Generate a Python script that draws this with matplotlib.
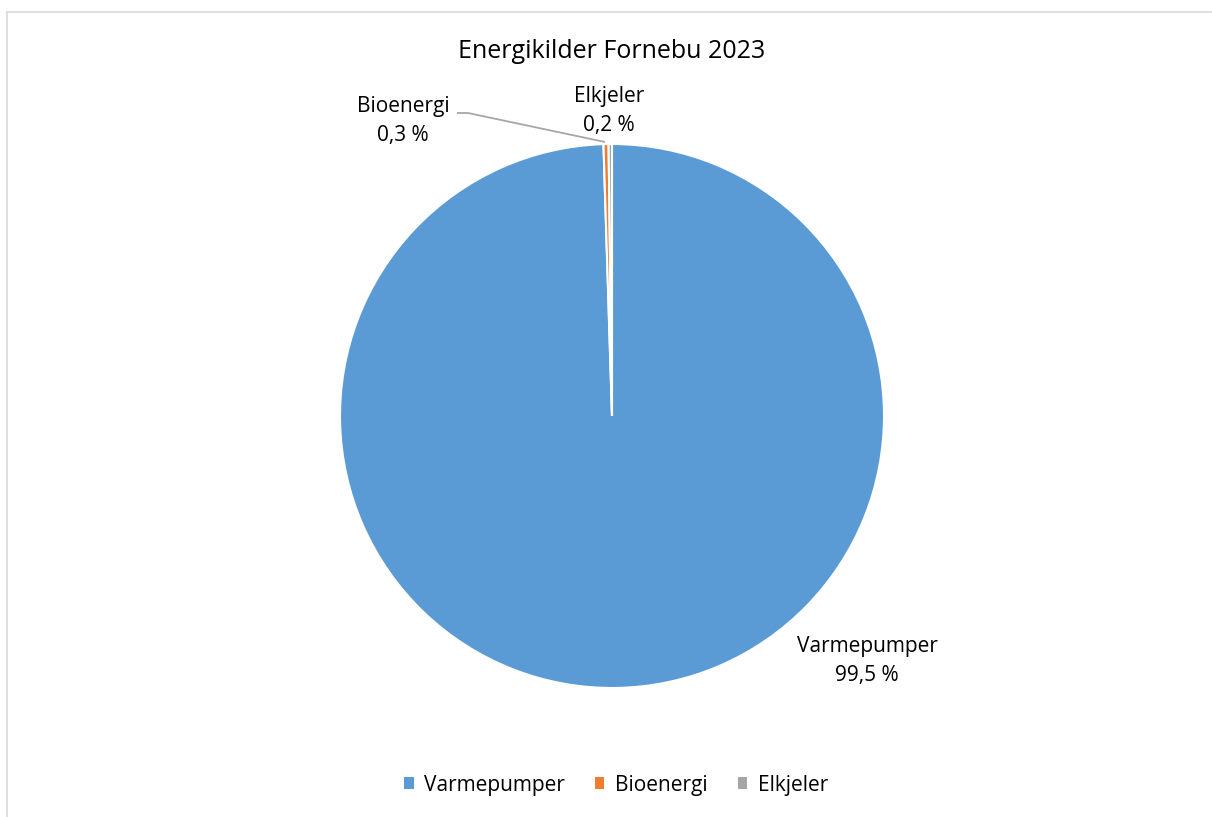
import matplotlib
matplotlib.use("Agg")
import matplotlib.pyplot as plt
from matplotlib.patches import Patch
from matplotlib.lines import Line2D

categories = ["Varmepumper", "Bioenergi", "Elkjeler"]
values = [99.5, 0.3, 0.2]
value_labels = ["99,5 %", "0,3 %", "0,2 %"]
colors = ["#5B9BD5", "#ED7D31", "#A5A5A5"]
title = "Energikilder Fornebu 2023"

plt.rcParams['font.family'] = ['Open Sans', 'DejaVu Sans']

W, H = 1212, 817
fig = plt.figure(figsize=(W / 100, H / 100), dpi=100)

# chart border (light grey, cropped at right/bottom)
fig.add_artist(Line2D([6.5 / W, 1], [1 - 11.5 / H, 1 - 11.5 / H], color="#D9D9D9", lw=1.2))
fig.add_artist(Line2D([6.5 / W, 6.5 / W], [0, 1 - 11.5 / H], color="#D9D9D9", lw=1.2))

cx, cy, R = 612, 416, 272
half = 300
ax = fig.add_axes([(cx - half) / W, 1 - (cy + half) / H, 2 * half / W, 2 * half / H])

ax.pie(values, colors=colors, startangle=90, counterclock=False, radius=1,
       wedgeprops=dict(edgecolor="white", linewidth=1.5))
ax.set_xlim(-half / R, half / R)
ax.set_ylim(-half / R, half / R)
ax.set_aspect("equal")
ax.axis("off")

def d(px, py):
    return (px - cx) / R, (cy - py) / R

fs = 15
ls = 1.45
ax.text(*d(867, 661), f"{categories[0]}\n{value_labels[0]}", ha="center", va="center",
        fontsize=fs, linespacing=ls, color="#000000", clip_on=False)
ax.text(*d(403, 121), f"{categories[1]}\n{value_labels[1]}", ha="center", va="center",
        fontsize=fs, linespacing=ls, color="#000000", clip_on=False)
ax.text(*d(609, 111), f"{categories[2]}\n{value_labels[2]}", ha="center", va="center",
        fontsize=fs, linespacing=ls, color="#000000", clip_on=False)

# leader line for Bioenergi
p1, p2, p3 = d(457, 113), d(468, 113), d(605, 142)
ax.plot([p1[0], p2[0], p3[0]], [p1[1], p2[1], p3[1]], color="#A6A6A6", lw=1.3,
        solid_capstyle="butt", clip_on=False)

fig.text(cx / W, 1 - 51 / H, title, ha="center", va="center", fontsize=18, color="#000000")

handles = [Patch(facecolor=c, edgecolor="none") for c in colors]
fig.legend(handles, categories, loc="center", bbox_to_anchor=(616 / W, 1 - 785 / H), ncol=3,
           frameon=False, fontsize=15, handlelength=0.45, handleheight=0.45,
           handletextpad=0.5, columnspacing=1.45)

fig.savefig("out.png", dpi=100, facecolor="white")
